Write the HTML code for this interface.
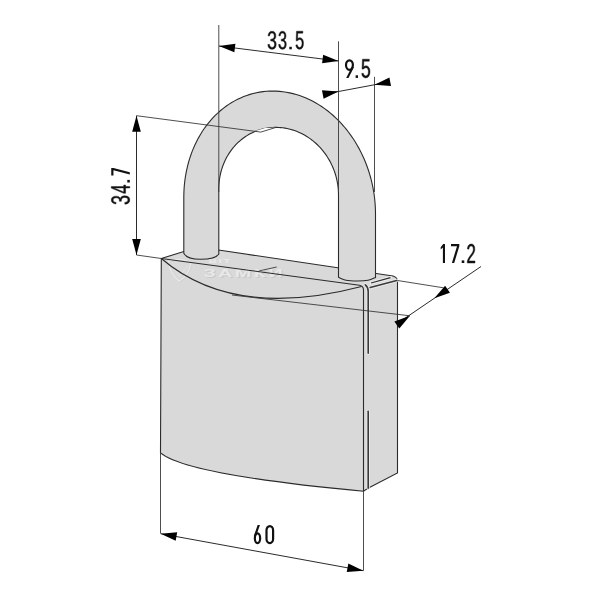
<!DOCTYPE html>
<html><head><meta charset="utf-8"><style>
html,body{margin:0;padding:0;background:#fff;width:600px;height:600px;overflow:hidden}
svg{display:block}
.ln{fill:none;stroke:#2b2b2b;stroke-width:1.1;stroke-linejoin:round}
.ext{fill:none;stroke:#3a3a3a;stroke-width:0.9}
.dim{fill:none;stroke:#2b2b2b;stroke-width:1}
.halo{fill:none;stroke:#ececec;stroke-width:3.2;stroke-linecap:round}
.ln2{fill:none;stroke:#3a3a3a;stroke-width:1.6;stroke-linecap:round;stroke-linejoin:round}
.ah{fill:#000;stroke:none}
.t{fill:#111;stroke:#111;stroke-width:42}
.cg{fill:#111}
.cgs{fill:none;stroke:#111}
</style></head><body>
<svg width="600" height="600" viewBox="0 0 600 600">
<path d="M161.3,258.5 L183.8,251.5 L218.5,250 L393,276 Q397.5,277.5 397.5,281 L397.5,473 L368,488.3 L363.5,491.3 Q186.17,474.59 160.5,452.8 Z" fill="#d9d9d9" stroke="#2b2b2b" stroke-width="1.1"/>
<g opacity="0.9">
<path d="M168.5,261.5 Q180,256.5 191,263.5 Q189,275 179.3,281.3 Q170,274 168.5,261.5 Z" fill="none" stroke="#cdcdcd" stroke-width="1.2" transform="translate(0.6,0.6)"/>
<path d="M168.5,261.5 Q180,256.5 191,263.5 Q189,275 179.3,281.3 Q170,274 168.5,261.5 Z" fill="none" stroke="#ececec" stroke-width="1.2"/>
<path d="M172,265 L179.5,276.5 L187.5,266" fill="none" stroke="#e6e6e6" stroke-width="1"/>
<text transform="translate(203.7,277.9) scale(1.16,0.64)" font-family="Liberation Sans" font-weight="bold" font-size="17" fill="#c8c8c8" dx="0.8" dy="0.8" letter-spacing="2.2">ЗАМКИ</text>
<text transform="translate(203.2,277.4) scale(1.16,0.64)" font-family="Liberation Sans" font-weight="bold" font-size="17" fill="#eaeaea" letter-spacing="2.2">ЗАМКИ</text>
<text transform="translate(208.5,263) scale(1.35,0.66)" font-family="Liberation Sans" font-weight="bold" font-size="8.5" fill="#ebebeb" letter-spacing="1.2">BIT</text>
</g>
<path d="M161.3,258.5 L359.5,285.2 Q363.5,286 363.5,290 L363.5,491.3" class="ln"/>
<path d="M161.3,258.5 Q233.62,320.19 361.5,286.5" class="ln"/>
<path d="M368.2,353.3 L368.2,291.5 Q368.2,287 365.3,284.8 M370.2,287.6 L396.7,280.4" class="halo"/><path d="M368.2,353.3 L368.2,291.5 Q368.2,287 365.3,284.8 M370.2,287.6 L396.7,280.4" class="ln2"/>
<path d="M368.2,411.3 L368.2,488.3" class="halo"/><path d="M368.2,411.3 L368.2,488.3" class="ln2"/>
<path d="M371,283 L390.5,277.6" class="halo"/><path d="M371,283 L390.5,277.6" class="ln"/>
<path d="M183.8,253.2 L183.80,197.46 L183.86,193.47 L184.03,189.50 L184.32,185.55 L184.73,181.62 L185.25,177.73 L185.89,173.86 L186.64,170.04 L187.50,166.26 L188.48,162.52 L189.57,158.84 L190.76,155.22 L192.07,151.66 L193.48,148.16 L195.00,144.74 L196.62,141.39 L198.34,138.11 L200.16,134.92 L202.08,131.82 L204.09,128.80 L206.20,125.88 L208.39,123.06 L210.67,120.34 L213.04,117.72 L215.48,115.21 L218.01,112.80 L220.61,110.52 L223.28,108.34 L226.02,106.29 L228.82,104.36 L231.69,102.55 L234.62,100.87 L237.60,99.31 L240.63,97.89 L243.71,96.59 L246.83,95.43 L249.99,94.40 L253.19,93.51 L256.42,92.76 L259.68,92.14 L262.97,91.66 L266.27,91.32 L269.59,91.12 L272.92,91.06 L276.26,91.14 L279.61,91.36 L282.95,91.72 L286.30,92.22 L289.63,92.85 L292.95,93.62 L296.25,94.53 L299.54,95.58 L302.80,96.76 L306.03,98.07 L309.23,99.51 L312.39,101.08 L315.52,102.78 L318.60,104.61 L321.63,106.56 L324.61,108.63 L327.54,110.81 L330.41,113.12 L333.22,115.53 L335.96,118.06 L338.63,120.69 L341.23,123.43 L343.76,126.26 L346.20,129.20 L348.57,132.22 L350.85,135.34 L353.05,138.54 L355.16,141.82 L357.17,145.19 L359.09,148.62 L360.91,152.13 L362.64,155.70 L364.26,159.33 L365.78,163.01 L367.20,166.75 L368.51,170.54 L369.71,174.37 L370.80,178.24 L371.78,182.14 L372.64,186.07 L373.40,190.03 L374.04,194.00 L374.56,197.99 L374.97,201.98 L375.26,205.98 L375.44,209.99 L375.50,213.98 L375.50,213.98 L375.5,277.5 C374.25,277.97 371.08,279.72 368.00,280.30 C364.92,280.88 360.67,281.02 357.00,281.00 C353.33,280.98 349.08,280.82 346.00,280.20 C342.92,279.58 339.75,277.78 338.50,277.30 L338.50,195.04 L338.50,195.04 L338.46,192.79 L338.36,190.53 L338.17,188.28 L337.92,186.03 L337.59,183.79 L337.20,181.56 L336.73,179.34 L336.19,177.13 L335.58,174.95 L334.90,172.78 L334.15,170.64 L333.33,168.53 L332.45,166.44 L331.51,164.38 L330.49,162.36 L329.42,160.38 L328.28,158.43 L327.08,156.52 L325.83,154.66 L324.51,152.84 L323.14,151.07 L321.72,149.35 L320.24,147.68 L318.71,146.07 L317.14,144.51 L315.52,143.01 L313.85,141.57 L312.14,140.19 L310.38,138.87 L308.59,137.62 L306.77,136.44 L304.91,135.32 L303.01,134.27 L301.09,133.29 L299.14,132.38 L297.17,131.55 L295.17,130.79 L293.15,130.10 L291.12,129.49 L289.07,128.96 L287.00,128.50 L284.93,128.12 L282.85,127.82 L280.76,127.59 L278.67,127.45 L276.58,127.38 L274.50,127.39 L272.42,127.48 L270.34,127.65 L268.28,127.89 L266.23,128.22 L264.19,128.62 L262.17,129.10 L260.18,129.66 L258.20,130.29 L256.25,131.00 L254.33,131.78 L252.43,132.64 L250.57,133.56 L248.74,134.56 L246.95,135.63 L245.20,136.77 L243.49,137.97 L241.82,139.24 L240.20,140.58 L238.62,141.97 L237.09,143.43 L235.61,144.95 L234.19,146.52 L232.82,148.15 L231.50,149.84 L230.24,151.57 L229.04,153.36 L227.91,155.19 L226.83,157.06 L225.82,158.98 L224.87,160.94 L223.98,162.94 L223.17,164.97 L222.42,167.03 L221.74,169.13 L221.12,171.25 L220.58,173.40 L220.11,175.57 L219.71,177.76 L219.39,179.97 L219.13,182.19 L218.95,184.43 L218.84,186.67 L218.80,188.92 L218.8,254 C216,258.5 208,259.3 200.5,259.3 C193,259.3 186,257.5 183.8,253.2 Z" fill="#d9d9d9" stroke="#2b2b2b" stroke-width="1.1"/>
<path d="M218.8,25 L218.8,192" class="ext"/>
<path d="M338.5,41.3 L338.5,192" class="ext"/>
<path d="M374.5,76.8 L374.5,192" class="ext"/>
<path d="M219,46 L338.5,61" class="dim"/>
<path d="M219.00,46.00 L234.34,52.26 L235.41,43.73 Z" class="ah"/>
<path d="M338.50,61.00 L323.16,54.74 L322.09,63.27 Z" class="ah"/>
<path d="M323,93.5 L338.5,91.5 L374.5,84.75 L389,82" class="dim"/>
<path d="M338.50,91.50 L321.98,90.25 L323.58,98.70 Z" class="ah"/>
<path d="M374.50,84.75 L391.02,86.04 L389.44,77.59 Z" class="ah"/>
<path d="M136.5,115.7 L136.5,255" class="dim"/>
<path d="M136.50,115.70 L132.20,131.70 L140.80,131.70 Z" class="ah"/>
<path d="M136.50,255.00 L140.80,239.00 L132.20,239.00 Z" class="ah"/>
<path d="M254.5,131.3 L260.8,132.1 L276,127.4 L265,127.9 Z" fill="#fff"/>
<path d="M136.5,115.7 L260.8,132.1 L276,127.4" class="ext"/>
<path d="M259.5,270.8 L276.7,267" class="ext"/>
<path d="M136.5,255 L161.3,258.5" class="ext"/>
<path d="M397.5,280.5 L443.5,287.8" class="ext"/>
<path d="M232,295 L410,315.8" class="ext"/>
<path d="M481,266.5 L399,322.3" class="dim"/>
<path d="M434.30,298.30 L449.95,292.85 L445.10,285.74 Z" class="ah"/>
<path d="M410.00,315.80 L394.40,321.38 L399.30,328.45 Z" class="ah"/>
<path d="M160.5,452.8 L160.5,533.5" class="ext"/>
<path d="M363.5,491.3 L363.5,570.7" class="ext"/>
<path d="M160.7,533.7 L363.3,570.7" class="dim"/>
<path d="M160.70,533.70 L175.67,540.80 L177.21,532.34 Z" class="ah"/>
<path d="M363.30,570.70 L348.33,563.60 L346.79,572.06 Z" class="ah"/>
<path transform="matrix(0.00865,0,0,-0.01248,267.125,49.050)" d="M1049 389Q1049 194 925.0 87.0Q801 -20 571 -20Q357 -20 229.5 76.5Q102 173 78 362L264 379Q300 129 571 129Q707 129 784.5 196.0Q862 263 862 395Q862 510 773.5 574.5Q685 639 518 639H416V795H514Q662 795 743.5 859.5Q825 924 825 1038Q825 1151 758.5 1216.5Q692 1282 561 1282Q442 1282 368.5 1221.0Q295 1160 283 1049L102 1063Q122 1236 245.5 1333.0Q369 1430 563 1430Q775 1430 892.5 1331.5Q1010 1233 1010 1057Q1010 922 934.5 837.5Q859 753 715 723V719Q873 702 961.0 613.0Q1049 524 1049 389Z" class="t"/>
<path transform="matrix(0.00793,0,0,-0.01248,277.981,49.050)" d="M1049 389Q1049 194 925.0 87.0Q801 -20 571 -20Q357 -20 229.5 76.5Q102 173 78 362L264 379Q300 129 571 129Q707 129 784.5 196.0Q862 263 862 395Q862 510 773.5 574.5Q685 639 518 639H416V795H514Q662 795 743.5 859.5Q825 924 825 1038Q825 1151 758.5 1216.5Q692 1282 561 1282Q442 1282 368.5 1221.0Q295 1160 283 1049L102 1063Q122 1236 245.5 1333.0Q369 1430 563 1430Q775 1430 892.5 1331.5Q1010 1233 1010 1057Q1010 922 934.5 837.5Q859 753 715 723V719Q873 702 961.0 613.0Q1049 524 1049 389Z" class="t"/>
<g transform="translate(289.30,46.80)"><rect x="0" y="0" width="2.50" height="2.50" class="cg"/></g>
<path transform="matrix(0.00793,0,0,-0.01267,295.150,49.047)" d="M1053 459Q1053 236 920.5 108.0Q788 -20 553 -20Q356 -20 235.0 66.0Q114 152 82 315L264 336Q321 127 557 127Q702 127 784.0 214.5Q866 302 866 455Q866 588 783.5 670.0Q701 752 561 752Q488 752 425.0 729.0Q362 706 299 651H123L170 1409H971V1256H334L307 809Q424 899 598 899Q806 899 929.5 777.0Q1053 655 1053 459Z" class="t"/>
<g transform="translate(344.90,59.20)"><ellipse cx="4.55" cy="5.85" rx="3.45" ry="4.75" class="cgs" stroke-width="2.20"/><path d="M7.00,7.35 L9.05,8.05 L3.60,18.70 L1.30,18.70 Z" class="cg"/></g>
<g transform="translate(355.60,75.30)"><rect x="0" y="0" width="2.40" height="2.60" class="cg"/></g>
<path transform="matrix(0.00855,0,0,-0.01309,360.999,77.638)" d="M1053 459Q1053 236 920.5 108.0Q788 -20 553 -20Q356 -20 235.0 66.0Q114 152 82 315L264 336Q321 127 557 127Q702 127 784.0 214.5Q866 302 866 455Q866 588 783.5 670.0Q701 752 561 752Q488 752 425.0 729.0Q362 706 299 651H123L170 1409H971V1256H334L307 809Q424 899 598 899Q806 899 929.5 777.0Q1053 655 1053 459Z" class="t"/>
<g transform="translate(451.00,244.00)"><path d="M0,0 L8.30,0 L8.30,2.20 L3.20,19.00 L0.90,19.00 L6.00,2.20 L0,2.20 Z" class="cg"/></g>
<g transform="translate(461.70,260.40)"><rect x="0" y="0" width="2.60" height="2.60" class="cg"/></g>
<path transform="matrix(0.00825,0,0,-0.01329,466.450,263.000)" d="M103 0V127Q154 244 227.5 333.5Q301 423 382.0 495.5Q463 568 542.5 630.0Q622 692 686.0 754.0Q750 816 789.5 884.0Q829 952 829 1038Q829 1154 761.0 1218.0Q693 1282 572 1282Q457 1282 382.5 1219.5Q308 1157 295 1044L111 1061Q131 1230 254.5 1330.0Q378 1430 572 1430Q785 1430 899.5 1329.5Q1014 1229 1014 1044Q1014 962 976.5 881.0Q939 800 865.0 719.0Q791 638 582 468Q467 374 399.0 298.5Q331 223 301 153H1036V0Z" class="t"/>
<path d="M442.9,263 L445.0,263 L445.0,244 L443.2,244 L440.7,247.2 L440.7,249.6 L442.9,247.4 Z" fill="#111"/>
<g transform="translate(253.75,525.00)"><g transform="rotate(180 3.75 9.60)"><ellipse cx="3.75" cy="6.01" rx="2.65" ry="4.91" class="cgs" stroke-width="2.20"/><path d="M5.40,7.51 L7.45,8.21 L3.60,19.20 L1.30,19.20 Z" class="cg"/></g></g>
<g transform="translate(265.40,525.00)"><rect x="1.1" y="1.1" width="6.60" height="17.00" rx="3.30" ry="4.13" class="cgs" stroke-width="2.2"/></g>
<path transform="matrix(0,-0.00865,-0.01279,0,129.544,204.875)" d="M1049 389Q1049 194 925.0 87.0Q801 -20 571 -20Q357 -20 229.5 76.5Q102 173 78 362L264 379Q300 129 571 129Q707 129 784.5 196.0Q862 263 862 395Q862 510 773.5 574.5Q685 639 518 639H416V795H514Q662 795 743.5 859.5Q825 924 825 1038Q825 1151 758.5 1216.5Q692 1282 561 1282Q442 1282 368.5 1221.0Q295 1160 283 1049L102 1063Q122 1236 245.5 1333.0Q369 1430 563 1430Q775 1430 892.5 1331.5Q1010 1233 1010 1057Q1010 922 934.5 837.5Q859 753 715 723V719Q873 702 961.0 613.0Q1049 524 1049 389Z" class="t"/>
<path transform="matrix(0,-0.00804,-0.01317,0,129.800,193.678)" d="M881 319V0H711V319H47V459L692 1409H881V461H1079V319ZM711 1206Q709 1200 683.0 1153.0Q657 1106 644 1087L283 555L229 481L213 461H711Z" class="t"/>
<g transform="matrix(0,-1,1,0,127.30,182.50)"><rect x="0" y="0" width="2.60" height="2.50" class="cg"/></g>
<g transform="matrix(0,-1,1,0,111.25,175.40)"><path d="M0,0 L7.50,0 L7.50,2.20 L3.20,18.55 L0.90,18.55 L5.20,2.20 L0,2.20 Z" class="cg"/></g>
</svg></body></html>
